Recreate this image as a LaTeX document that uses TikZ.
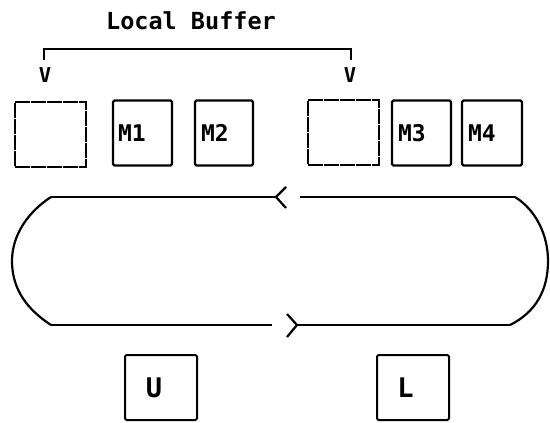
\documentclass[tikz,border=0pt]{standalone}
\usepackage{fontspec}
\setmonofont{DejaVu Sans Mono}
\begin{document}
\begin{tikzpicture}[x=1pt,y=-1pt,
  thick line/.style={line width=2.2pt},
  emptybox/.style={draw, line width=1.3pt, dash pattern=on 15pt off 1pt, minimum width=71pt, minimum height=65pt, inner sep=0pt},
  mbox/.style={draw, line width=2.2pt, rounded corners=1.5pt, minimum width=59pt, minimum height=65pt, inner sep=0pt},
  ubox/.style={draw, line width=2pt, rounded corners=1.5pt, minimum width=72pt, minimum height=65pt, inner sep=0pt},
  mlabel/.style={font=\ttfamily\bfseries\fontsize{23}{23}\selectfont, anchor=west, inner sep=0pt},
  biglabel/.style={font=\ttfamily\bfseries\fontsize{27}{27}\selectfont, inner sep=0pt},
  vlabel/.style={font=\ttfamily\bfseries\fontsize{20.5}{20.5}\selectfont, inner sep=0pt},
  titlelabel/.style={font=\ttfamily\bfseries\fontsize{23.5}{23.5}\selectfont, inner sep=0pt}]
\useasboundingbox (0,0) rectangle (550,423);

% title and bracket
\node[titlelabel] (title) at (191,21) {Local Buffer};
\coordinate (brl) at (44,60);
\coordinate (brr) at (351,60);
\draw[thick line] (brl) -- ([yshift=11pt]brl) -- ([yshift=11pt]brr) -- (brr);
\node[vlabel] (v1) at (45,75.5) {V};
\node[vlabel] (v2) at (350,75.5) {V};

% buffer boxes
\node[emptybox] (b1) at (50.5,134.5) {};
\node[mbox] (m1) at (142.5,133) {};
\node[mbox, minimum width=58pt] (m2) at (224,133) {};
\node[emptybox] (b4) at (343.5,132.5) {};
\node[mbox] (m3) at (421.5,133) {};
\node[mbox, minimum width=60pt] (m4) at (492,133) {};
\node[mlabel] (t1) at ([xshift=6pt]m1.west) {M1};
\node[mlabel] (t2) at ([xshift=7pt]m2.west) {M2};
\node[mlabel] (t3) at ([xshift=7pt]m3.west) {M3};
\node[mlabel] (t4) at ([xshift=7pt]m4.west) {M4};

% ring
\coordinate (tl) at (51,197);
\coordinate (ta) at (276,197);
\coordinate (tb) at (300,197);
\coordinate (tr) at (515,197);
\coordinate (bl) at (51,325);
\coordinate (ba) at (272,325);
\coordinate (bb) at (297,325);
\coordinate (br) at (510,325);
\draw[thick line] (tl) -- (ta);
\draw[thick line] ([xshift=10pt,yshift=10pt]ta) -- (ta) -- ([xshift=10pt,yshift=-11pt]ta);
\draw[thick line] (tb) -- (tr);
\draw[thick line] (tl) .. controls (28,212) and (12,235) .. (12,261)
                       .. controls (12,290) and (28,310) .. (bl);
\draw[thick line] (tr) .. controls (536,210) and (548,235) .. (548,261)
                       .. controls (548,290) and (536,312) .. (br);
\draw[thick line] (bl) -- (ba);
\draw[thick line] ([xshift=-10pt,yshift=11pt]bb) -- (bb) -- ([xshift=-10pt,yshift=-12pt]bb);
\draw[thick line] (bb) -- (br);

% processors
\node[ubox] (u) at (161,387.5) {};
\node[ubox] (l) at (413,387.5) {};
\node[biglabel] (ut) at (154,388) {U};
\node[biglabel] (lt) at (405.5,388) {L};
\end{tikzpicture}
\end{document}
